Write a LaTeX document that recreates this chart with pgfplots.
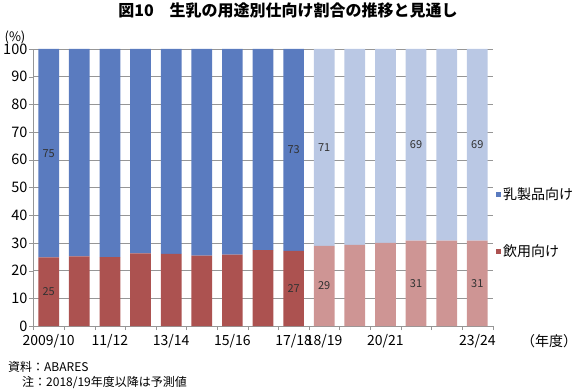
\documentclass[border=0pt]{standalone}
\usepackage{pgfplots}
\pgfplotsset{compat=1.18}
\usepackage{pgfplotstable}
\usepackage{fontspec}
\setmainfont{Noto Sans CJK JP}

\definecolor{cblue}{RGB}{90,123,191}
\definecolor{cred}{RGB}{172,82,80}
\definecolor{lblue}{RGB}{186,200,228}
\definecolor{lred}{RGB}{206,149,148}
\definecolor{gridc}{RGB}{150,150,150}
\definecolor{labc}{RGB}{50,50,50}

% x  red(actual) red(forecast) blue(actual) blue(forecast)
\pgfplotstableread{
x ra rf ba bf
0 24.8 0 75.2 0
1 25.1 0 74.9 0
2 24.9 0 75.1 0
3 26.2 0 73.8 0
4 26.0 0 74.0 0
5 25.4 0 74.6 0
6 25.8 0 74.2 0
7 27.4 0 72.6 0
8 27.1 0 72.9 0
9 0 28.9 0 71.1
10 0 29.3 0 70.7
11 0 30.0 0 70.0
12 0 30.8 0 69.2
13 0 30.8 0 69.2
14 0 30.8 0 69.2
}\bars

% data labels, at the middle of each labelled segment
\pgfplotstableread{
x y l
0 12.4 25
0 62.4 75
8 13.55 27
8 63.55 73
9 14.45 29
9 64.45 71
12 15.4 31
12 65.4 69
14 15.4 31
14 65.4 69
}\labels

\begin{document}
\begin{tikzpicture}
\path[use as bounding box] (0pt,0pt) rectangle (581pt,391pt);
\begin{axis}[
  at={(33.4pt,65pt)}, anchor=south west,
  scale only axis, width=459.2pt, height=277pt,
  ybar stacked, bar width=20.7pt,
  xmin=-0.5, xmax=14.5, ymin=0, ymax=100,
  ytick={0,10,...,100},
  xtick={0,...,14},
  xticklabels={2009/10,,11/12,,13/14,,15/16,,17/18,18/19,,20/21,,,23/24},
  minor xtick={-0.5,0.5,...,14.5},
  major x tick style={draw=none},
  minor x tick style={draw=gridc},
  ytick style={draw=gridc},
  tick align=outside,
  major tick length=4pt, minor tick length=4pt,
  axis x line*=bottom, axis y line*=left,
  axis line style={draw=gridc,-},
  ymajorgrids, grid style={draw=gridc, line width=0.5pt},
  /pgf/number format/assume math mode=true,
  yticklabel style={font=\fontsize{14.5}{15}\selectfont, xshift=1.5pt},
  xticklabel style={font=\fontsize{14}{15}\selectfont, yshift=-1pt},
  legend image code/.code={\fill[#1] (0pt,-2.6pt) rectangle (5.2pt,2.6pt);},
  reverse legend,
  legend cell align=left,
  legend style={at={(1.0068,0.372)}, anchor=west, draw=none, fill=none,
    inner sep=0pt, row sep=40pt, font=\fontsize{14}{16}\selectfont,
    nodes={inner sep=2pt}},
]
\addplot[fill=cred, draw=none] table[x=x, y=ra] {\bars};
\addlegendentry{飲用向け}
\addplot[fill=lred, draw=none, forget plot] table[x=x, y=rf] {\bars};
\addplot[fill=cblue, draw=none] table[x=x, y=ba] {\bars};
\addlegendentry{乳製品向け}
\addplot[fill=lblue, draw=none, forget plot] table[x=x, y=bf] {\bars};
\end{axis}
\begin{axis}[
  at={(33.4pt,65pt)}, anchor=south west,
  scale only axis, width=459.2pt, height=277pt,
  xmin=-0.5, xmax=14.5, ymin=0, ymax=100, hide axis,
]
\addplot[draw=none, nodes near coords, point meta=explicit symbolic,
  every node near coord/.style={anchor=center, text=labc,
    font=\fontsize{11}{11}\selectfont}]
  table[x=x, y=y, meta=l] {\labels};
\end{axis}
\node[font=\fontsize{16}{16}\selectfont\bfseries] at (288pt,380.5pt) {図10　生乳の用途別仕向け割合の推移と見通し};
\node[font=\fontsize{13}{13}\selectfont] at (15pt,354pt) {(\%)};
\node[font=\fontsize{14}{14}\selectfont] at (549pt,50pt) {（年度）};
\node[font=\fontsize{12}{12}\selectfont, anchor=west, inner sep=0pt] at (8pt,24pt) {資料：ABARES};
\node[font=\fontsize{12}{12}\selectfont, anchor=west, inner sep=0pt] at (22pt,8pt) {注：2018/19年度以降は予測値};
\end{tikzpicture}
\end{document}
